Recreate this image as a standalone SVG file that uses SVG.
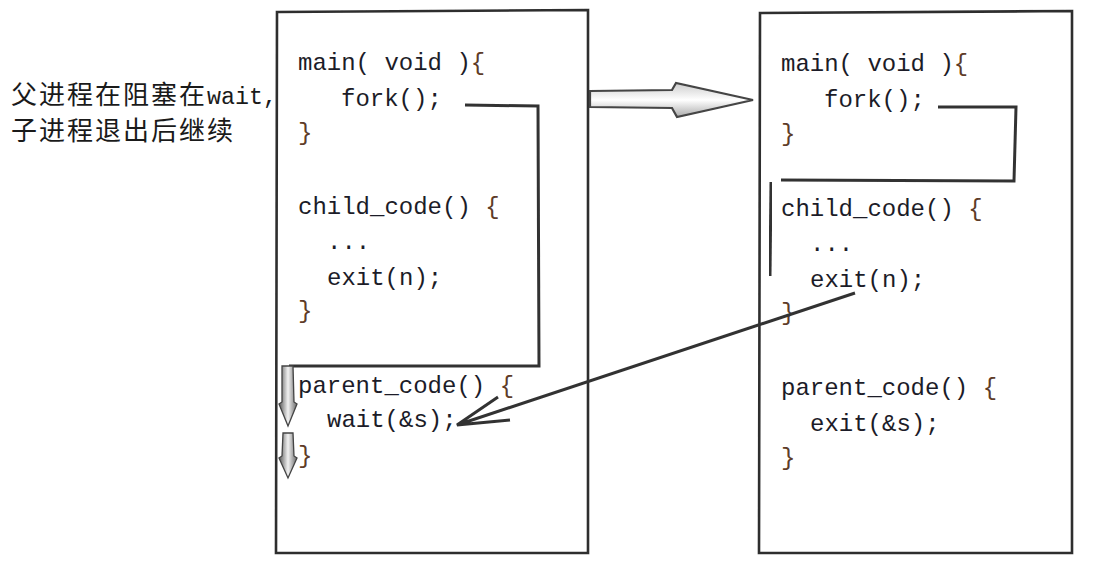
<svg xmlns="http://www.w3.org/2000/svg" width="1104" height="562" viewBox="0 0 1104 562">
<defs>
<filter id="pencil" x="-5%" y="-5%" width="110%" height="110%">
<feGaussianBlur stdDeviation="0.7"/>
</filter>
<linearGradient id="arrowShade" x1="0" y1="0" x2="1" y2="0">
<stop offset="0" stop-color="#555"/>
<stop offset="0.5" stop-color="#f2f2f2"/>
<stop offset="1" stop-color="#666"/>
</linearGradient>
<linearGradient id="bigShade" x1="0" y1="0" x2="0" y2="1">
<stop offset="0" stop-color="#ccc"/>
<stop offset="0.5" stop-color="#fff"/>
<stop offset="1" stop-color="#aaa"/>
</linearGradient>
</defs>
<style>
.box{fill:#fff;stroke:#2e2e2e;stroke-width:2.6;filter:url(#pencil)}
.pen{fill:none;stroke:#333;stroke-width:3;stroke-linejoin:miter;filter:url(#pencil)}
.code{font-family:"Liberation Mono","DejaVu Sans Mono",monospace;font-size:24px;fill:#1c1c28}
.br{fill:#5e3c28}
.note{font-family:"Noto Sans CJK SC","Noto Sans",sans-serif;font-size:26px;letter-spacing:2px;fill:#1a1a1a}
.notel{font-family:"Liberation Mono",monospace;font-size:23.3px;letter-spacing:0}
</style>
<rect width="1104" height="562" fill="#fff"/>

<g id="note">
<text class="note" x="11" y="104">父进程在阻塞在<tspan class="notel">wait,</tspan><tspan x="11" y="140">子进程退出后继续</tspan></text>
</g>

<g id="parent-process">
<path class="box" d="M277,12 L588,10 L588,553 L276,553 Z"/>
<text class="code" x="298" y="70">main( void )<tspan class="br">{</tspan></text>
<text class="code" x="341" y="106">fork();</text>
<text class="code br" x="298" y="140">}</text>
<text class="code" x="298" y="214">child_code() <tspan class="br">{</tspan></text>
<text class="code" x="327" y="249">...</text>
<text class="code" x="327" y="285">exit(n);</text>
<text class="code br" x="298" y="318">}</text>
<text class="code" x="298" y="393">parent_code() <tspan class="br">{</tspan></text>
<text class="code" x="327" y="427">wait(&amp;s);</text>
<text class="code br" x="298" y="463">}</text>
</g>

<g id="child-process">
<path class="box" d="M760,13 L1072,11 L1072,553 L759,553 Z"/>
<text class="code" x="781" y="71">main( void )<tspan class="br">{</tspan></text>
<text class="code" x="824" y="107">fork();</text>
<text class="code br" x="781" y="141">}</text>
<text class="code" x="781" y="216">child_code() <tspan class="br">{</tspan></text>
<text class="code" x="810" y="251">...</text>
<text class="code" x="810" y="287">exit(n);</text>
<text class="code br" x="781" y="320">}</text>
<text class="code" x="781" y="395">parent_code() <tspan class="br">{</tspan></text>
<text class="code" x="810" y="431">exit(&amp;s);</text>
<text class="code br" x="781" y="465">}</text>
</g>

<g id="connectors">
<!-- parent fork bracket -->
<path class="pen" d="M465,105 L538,106 L539,366 L289,366"/>
<!-- child fork bracket -->
<path class="pen" d="M938,107 L1016,107 L1014,181 L781,180"/>
<path class="pen" d="M771,182 L770,276" stroke-width="3.5"/>
<!-- parent continues arrows -->
<path d="M282,366 L293,366 L294,402 L297,404 L288,426 L279,404 L282,402 Z" fill="url(#arrowShade)" stroke="#444" stroke-width="1.3" filter="url(#pencil)"/>
<path d="M283,433 L293,433 L294,456 L297,458 L288,478 L279,458 L282,456 Z" fill="url(#arrowShade)" stroke="#444" stroke-width="1.3" filter="url(#pencil)"/>
<!-- fork big arrow -->
<path d="M590,91 L672,90 L676,83 L753,100 L677,117 L672,108 L590,107 Z" fill="url(#bigShade)" stroke="#444" stroke-width="2.2" filter="url(#pencil)"/>
<!-- exit to wait arrow -->
<path class="pen" d="M855,293 L457,425 M498,397 L457,425 L510,420" stroke-width="2.6"/>
</g>
</svg>
